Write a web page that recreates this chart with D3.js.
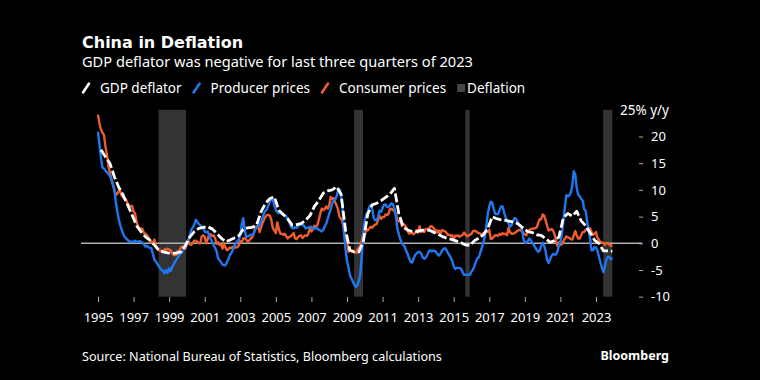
<!DOCTYPE html>
<html>
<head>
<meta charset="utf-8">
<script src="https://cdn.jsdelivr.net/npm/d3@7"></script>
<style>
html, body { margin: 0; padding: 0; background: #000; }
svg { display: block; }
text { font-family: "Noto Sans", sans-serif; fill: #fff; }
</style>
</head>
<body>
<svg id="chart" width="760" height="380"></svg>
<script>
// monthly y/y %, Jan 1995 .. Dec 2023
var consumerPrices = [
    24.1, 22.4, 21.3, 20.7, 20.3, 18.2, 16.7, 14.5, 13.2, 12.1, 11.2, 10.1, // 1995
    9.0, 9.3, 9.8, 9.7, 8.9, 8.6, 8.3, 8.1, 7.4, 7.0, 6.9, 7.0,
    5.9, 5.6, 4.0, 3.2, 2.8, 2.8, 2.7, 1.9, 1.8, 1.5, 1.1, 0.4,
    0.3, -0.1, 0.7, -0.3, -1.0, -1.3, -1.4, -1.4, -1.5, -1.1, -1.2, -1.0,
    -1.2, -1.3, -1.8, -2.2, -2.2, -2.1, -1.4, -1.3, -0.8, -0.6, -0.9, -1.0,
    -0.2, 0.7, -0.2, -0.3, 0.1, 0.5, 0.5, 0.3, 0.0, 0.0, 1.3, 1.5, // 2000
    1.2, 0.0, 0.8, 1.6, 1.7, 1.4, 1.5, 1.0, -0.1, 0.2, -0.3, -0.3,
    -1.0, 0.0, -0.8, -1.3, -1.1, -0.8, -0.9, -0.7, -0.7, -0.8, -0.7, -0.4,
    0.4, 0.2, 0.9, 1.0, 0.7, 0.3, 0.5, 0.9, 1.1, 1.8, 3.0, 3.2,
    3.2, 2.1, 3.0, 3.8, 4.4, 5.0, 5.3, 5.3, 5.2, 4.3, 2.8, 2.4,
    1.9, 3.9, 2.7, 1.8, 1.8, 1.6, 1.8, 1.3, 0.9, 1.2, 1.3, 1.6, // 2005
    1.9, 0.9, 0.8, 1.2, 1.4, 1.5, 1.0, 1.3, 1.5, 1.4, 1.9, 2.8,
    2.2, 2.7, 3.3, 3.0, 3.4, 4.4, 5.6, 6.5, 6.2, 6.5, 6.9, 6.5,
    7.1, 8.7, 8.3, 8.5, 7.7, 7.1, 6.3, 4.9, 4.6, 4.0, 2.4, 1.2,
    1.0, -1.6, -1.2, -1.5, -1.4, -1.7, -1.8, -1.2, -0.8, -0.5, 0.6, 1.9,
    1.5, 2.7, 2.4, 2.8, 3.1, 2.9, 3.3, 3.5, 3.6, 4.4, 5.1, 4.6, // 2010
    4.9, 4.9, 5.4, 5.3, 5.5, 6.4, 6.5, 6.2, 6.1, 5.5, 4.2, 4.1,
    4.5, 3.2, 3.6, 3.4, 3.0, 2.2, 1.8, 2.0, 1.9, 1.7, 2.0, 2.5,
    2.0, 3.2, 2.1, 2.4, 2.1, 2.7, 2.7, 2.6, 3.1, 3.2, 3.0, 2.5,
    2.5, 2.0, 2.4, 1.8, 2.5, 2.3, 2.3, 2.0, 1.6, 1.6, 1.4, 1.5,
    0.8, 1.4, 1.4, 1.5, 1.2, 1.4, 1.6, 2.0, 1.6, 1.3, 1.5, 1.6, // 2015
    1.8, 2.3, 2.3, 2.3, 2.0, 1.9, 1.8, 1.3, 1.9, 2.1, 2.3, 2.1,
    2.5, 0.8, 0.9, 1.2, 1.5, 1.5, 1.4, 1.8, 1.6, 1.9, 1.7, 1.8,
    1.5, 2.9, 2.1, 1.8, 1.8, 1.9, 2.1, 2.3, 2.5, 2.5, 2.2, 1.9,
    1.7, 1.5, 2.3, 2.5, 2.7, 2.7, 2.8, 2.8, 3.0, 3.8, 4.5, 4.5,
    5.4, 5.2, 4.3, 3.3, 2.4, 2.5, 2.7, 2.4, 1.7, 0.5, -0.5, 0.2, // 2020
    -0.3, -0.2, 0.4, 0.9, 1.3, 1.1, 1.0, 0.8, 0.7, 1.5, 2.3, 1.5,
    0.9, 0.9, 1.5, 2.1, 2.1, 2.5, 2.7, 2.5, 2.8, 2.1, 1.6, 1.8,
    2.1, 1.0, 0.7, 0.1, 0.2, 0.0, -0.3, 0.1, 0.0, -0.2, -0.5, -0.3
];

var producerPrices = [
    20.9, 18.5, 16.0, 14.2, 14.0, 13.6, 13.3, 13.0, 12.6, 12.0, 11.0, 10.0, // 1995
    7.8, 6.0, 4.5, 3.4, 2.5, 1.8, 1.2, 0.9, 0.6, 0.4, 0.3, 0.3,
    0.3, 0.5, 0.2, 0.3, 0.4, 0.3, 0.1, -0.2, -0.6, -0.5, -0.7, -0.9,
    -0.9, -2.0, -3.0, -3.4, -3.8, -4.3, -4.7, -5.0, -5.2, -5.6, -5.0, -5.5,
    -4.7, -5.2, -4.5, -4.0, -3.4, -3.0, -2.6, -2.1, -1.9, -1.5, -1.0, -0.6,
    -0.2, 0.5, 1.6, 2.5, 3.0, 3.5, 4.4, 4.0, 3.6, 3.4, 3.1, 2.8, // 2000
    2.2, 2.0, 2.2, 1.5, 0.8, 0.3, -0.3, -0.9, -1.5, -2.8, -3.2, -3.5,
    -4.0, -4.1, -4.1, -3.5, -3.0, -2.2, -1.8, -1.2, -0.5, 0.0, 0.4, 0.6,
    1.5, 3.5, 4.7, 2.5, 1.2, 1.3, 1.4, 1.6, 1.6, 1.8, 2.5, 3.1,
    3.1, 3.5, 4.0, 4.8, 5.6, 6.1, 6.4, 7.1, 7.8, 8.4, 8.1, 7.1,
    6.2, 5.8, 5.6, 5.8, 5.5, 5.3, 5.2, 5.0, 4.4, 4.0, 3.2, 2.9, // 2005
    2.8, 3.0, 2.9, 3.2, 3.7, 3.5, 3.5, 3.3, 2.8, 2.9, 2.9, 3.1,
    3.1, 2.8, 2.7, 2.9, 2.8, 2.5, 2.4, 2.2, 2.5, 3.2, 3.7, 4.6,
    5.5, 6.4, 7.5, 8.0, 8.2, 8.8, 10.0, 10.1, 9.1, 6.6, 2.0, -1.1,
    -3.3, -4.5, -6.0, -6.6, -7.2, -7.8, -8.2, -7.9, -7.0, -5.8, -2.1, 1.7,
    4.3, 5.4, 5.9, 6.8, 7.1, 6.4, 4.8, 4.3, 4.3, 5.0, 6.1, 5.9, // 2010
    6.6, 7.2, 7.3, 6.8, 6.8, 7.1, 7.5, 7.3, 6.5, 5.0, 2.7, 1.7,
    0.7, 0.0, -0.3, -0.7, -1.4, -2.1, -2.9, -3.5, -3.6, -2.8, -2.2, -1.9,
    -1.6, -1.6, -1.9, -2.6, -2.9, -2.7, -2.3, -1.6, -1.3, -1.5, -1.4, -1.4,
    -1.6, -2.0, -2.3, -2.0, -1.4, -1.1, -0.9, -1.2, -1.8, -2.2, -2.7, -3.3,
    -4.3, -4.8, -4.6, -4.6, -4.6, -4.8, -5.4, -5.9, -5.9, -5.9, -5.9, -5.9, // 2015
    -5.3, -4.9, -4.3, -3.4, -2.8, -2.6, -1.7, -0.8, 0.1, 1.2, 3.3, 5.5,
    6.9, 7.8, 7.6, 6.4, 5.5, 5.5, 5.5, 6.3, 6.9, 6.9, 5.8, 4.9,
    4.3, 3.7, 3.1, 3.4, 4.1, 4.7, 4.6, 4.1, 3.6, 3.3, 2.7, 0.9,
    0.1, 0.1, 0.4, 0.9, 0.6, 0.0, -0.3, -0.8, -1.2, -1.6, -1.4, -0.5,
    0.1, -0.4, -1.5, -3.1, -3.7, -3.0, -2.4, -2.0, -2.1, -2.1, -1.5, -0.4, // 2020
    0.3, 1.7, 4.4, 6.8, 9.0, 8.8, 9.0, 9.5, 10.7, 13.5, 12.9, 10.3,
    9.1, 8.8, 8.3, 8.0, 6.4, 6.1, 4.2, 2.3, 0.9, -1.3, -1.3, -0.7,
    -0.8, -1.4, -2.5, -3.6, -4.6, -5.4, -4.4, -3.0, -2.5, -2.6, -3.0, -2.7
];

// quarterly y/y %, Q1 1995 .. Q4 2023
var gdpDeflator = [
    17.5, 16.2, 15.0, 12.5,  10.5, 9.0, 7.2, 5.3,  3.3, 2.2, 1.2, 0.6,
    -0.3, -1.3, -1.6, -1.8,  -1.9, -1.8, -1.6, -0.4,
    1.2, 2.2, 2.8, 3.0,  3.1, 2.7, 1.9, 1.0,  0.3, 0.6, 1.0, 1.4,
    2.6, 2.9, 3.0, 3.4,  5.9, 7.5, 8.4, 8.7,
    6.2, 5.4, 4.6, 3.4,  3.5, 3.7, 4.3, 5.2,  6.9, 8.0, 9.4, 9.8,
    10.0, 10.6, 9.2, 2.5,  -1.3, -1.6, -1.6, 0.3,
    5.5, 7.2, 7.5, 8.0,  8.6, 9.2, 10.3, 5.5,  3.0, 2.5, 2.2, 2.2,
    2.4, 2.5, 2.4, 2.0,  1.6, 1.2, 0.9, 0.7,
    0.4, 0.1, -0.3, -0.4,  0.5, 1.0, 1.6, 2.8,  5.0, 4.6, 4.4, 4.3,
    4.1, 4.0, 3.5, 2.8,  2.2, 2.0, 1.6, 1.5,
    0.9, 0.2, 0.5, 1.2,  4.8, 5.6, 5.1, 6.0,  4.2, 3.3, 2.0, 0.6,
    0.0, -1.4, -1.4, -1.5
];

// periods shaded as deflation (decimal years)
var deflationPeriods = [[1998.4, 1999.95], [2009.4, 2009.9], [2015.65, 2015.9], [2023.4, 2023.92]];

var yearTicks = d3.range(1995, 2024, 2);
var valueTicks = [-10, -5, 0, 5, 10, 15, 20];

var colors = { gdp: '#ffffff', ppi: '#1f78f0', cpi: '#ef5c2e', band: '#333333' };

var svg = d3.select('#chart');

var x = d3.scaleLinear().domain([1995, 2023]).range([98, 596]);
var y = d3.scaleLinear().domain([-10, 25]).range([296.7, 109.8]);

function monthly(values) {
    return values.map(function(v, i) { return { t: 1995 + i / 12, v: v }; });
}
function quarterly(values) {
    return values.map(function(v, i) { return { t: 1995 + (3 * i + 2) / 12, v: v }; });
}

// titles
svg.append('text').attr('x', 82).attr('y', 47.5)
    .style('font-family', '"DejaVu Sans", sans-serif')
    .style('font-weight', 'bold').style('font-size', '16px')
    .text('China in Deflation');
svg.append('text').attr('x', 82).attr('y', 66.5)
    .style('font-size', '14.6px')
    .text('GDP deflator was negative for last three quarters of 2023');

// legend
var legendItems = [
    { label: 'GDP deflator', color: colors.gdp, type: 'line' },
    { label: 'Producer prices', color: colors.ppi, type: 'line' },
    { label: 'Consumer prices', color: colors.cpi, type: 'line' },
    { label: 'Deflation', color: '#444', type: 'box' }
];
var lx = 82;
legendItems.forEach(function(item) {
    var g = svg.append('g').attr('transform', 'translate(' + lx + ',88)');
    if (item.type === 'line') {
        g.append('line').attr('x1', 1).attr('y1', 4.5).attr('x2', 7).attr('y2', -4.5)
            .attr('stroke', item.color).attr('stroke-width', 2.6).attr('stroke-linecap', 'round');
    } else {
        g.append('rect').attr('x', 0).attr('y', -4).attr('width', 8).attr('height', 8).attr('fill', item.color);
    }
    var t = g.append('text').attr('x', item.type === 'line' ? 18 : 10).attr('y', 0).attr('dy', '0.35em')
        .style('font-size', '13.5px').text(item.label);
    lx += (item.type === 'line' ? 18 : 10) + t.node().getComputedTextLength() + 11;
});

// deflation bands
svg.append('g').selectAll('rect')
    .data(deflationPeriods)
    .enter().append('rect')
    .attr('x', function(d) { return x(d[0]); })
    .attr('width', function(d) { return x(d[1]) - x(d[0]); })
    .attr('y', y(25))
    .attr('height', y(-10) - y(25))
    .attr('fill', colors.band);

// zero line
svg.append('line')
    .attr('x1', 81).attr('x2', 642)
    .attr('y1', y(0)).attr('y2', y(0))
    .attr('stroke', '#b0b0b0').attr('stroke-width', 1.5);

// axes
var yAxis = d3.axisRight(y)
    .tickValues(valueTicks)
    .tickSize(4)
    .tickPadding(8)
    .tickFormat(function(d) { return d < 0 ? '-' + Math.abs(d) : String(d); });
var gy = svg.append('g').attr('transform', 'translate(639,0)').call(yAxis);
gy.select('.domain').remove();
gy.selectAll('.tick line').attr('stroke', '#aaa');
gy.selectAll('.tick text').attr('fill', '#fff').style('font-size', '13px').style('font-family', '"Noto Sans", sans-serif');

svg.append('text').attr('x', 620).attr('y', y(25)).attr('dy', '0.35em')
    .style('font-size', '13.5px').text('25% y/y');

var xAxis = d3.axisBottom(x)
    .tickValues(yearTicks)
    .tickSize(5)
    .tickPadding(11)
    .tickFormat(d3.format('d'));
var gx = svg.append('g').attr('transform', 'translate(0,297)').call(xAxis);
gx.select('.domain').remove();
gx.selectAll('.tick line').attr('stroke', '#aaa');
gx.selectAll('.tick text').attr('fill', '#fff').style('font-size', '13px').style('font-family', '"Noto Sans", sans-serif');

// lines
var line = d3.line()
    .x(function(d) { return x(d.t); })
    .y(function(d) { return y(d.v); });

svg.append('path').datum(monthly(consumerPrices))
    .attr('d', line).attr('fill', 'none')
    .attr('stroke', colors.cpi).attr('stroke-width', 2.4).attr('stroke-linejoin', 'round');
svg.append('path').datum(monthly(producerPrices))
    .attr('d', line).attr('fill', 'none')
    .attr('stroke', colors.ppi).attr('stroke-width', 2.4).attr('stroke-linejoin', 'round');
svg.append('path').datum(quarterly(gdpDeflator))
    .attr('d', line).attr('fill', 'none')
    .attr('stroke', colors.gdp).attr('stroke-width', 2.8)
    .attr('stroke-dasharray', '9,3').attr('stroke-linejoin', 'round');

// footer
svg.append('text').attr('x', 82).attr('y', 361)
    .style('font-size', '12.6px').attr('fill', '#ddd')
    .text('Source: National Bureau of Statistics, Bloomberg calculations');
svg.append('text').attr('x', 669).attr('y', 360).attr('text-anchor', 'end')
    .style('font-size', '12.5px').style('font-weight', 'bold')
    .text('Bloomberg');
</script>
</body>
</html>
